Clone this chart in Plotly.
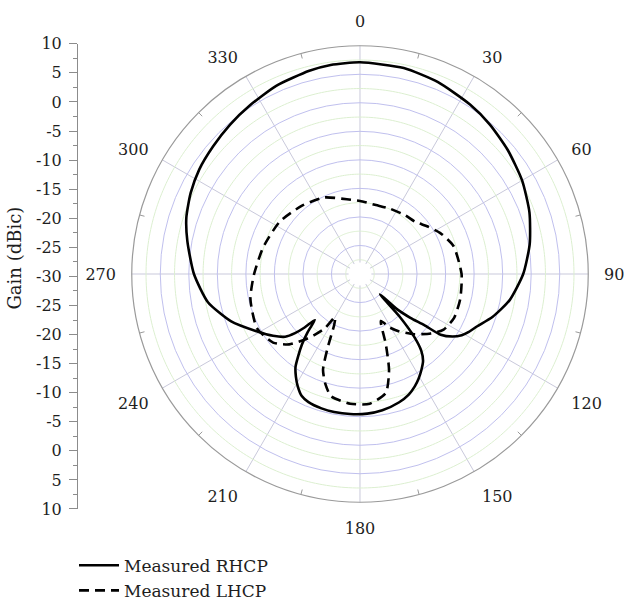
import numpy as np
import plotly.graph_objects as go

# Measured RHCP pattern: angle (deg) and gain (dBic)
rhcp_theta = [0, 12, 22, 33, 41, 50, 60, 70, 80, 90, 100, 108, 114, 118, 121, 124, 127,
              128.5, 131, 133.5, 135.5, 137, 139.3, 141.4, 144, 147.5, 151, 154, 158, 163,
              170.7, 177, 184, 190.6, 196, 201.9, 205.5, 209, 212, 214.8, 217, 219.5, 222,
              224.5, 226, 227.7, 230, 234.6, 241, 250, 259.5, 270, 280.8, 288, 295.6, 303,
              311, 319, 327, 336, 346, 352, 360]
rhcp_gain = [7.1, 6.9, 6.3, 5.4, 4.7, 3.8, 2.8, 1.6, 0.2, -1.4, -3.4, -5.6, -7.5, -8.4, -9.2,
             -10.4, -12.3, -15.6, -18.3, -21.0, -25.0, -20.0, -15.3, -12.8, -11.2, -10.0,
             -8.9, -8.1, -7.2, -6.5, -5.8, -5.5, -5.4, -5.4, -5.5, -5.8, -6.3, -7.5, -8.8,
             -10.2, -12.0, -14.0, -16.3, -18.7, -16.5, -14.6, -12.9, -11.3, -9.3, -5.9, -2.9,
             -0.9, 0.8, 2.0, 2.9, 3.6, 4.1, 4.7, 5.3, 6.1, 6.7, 7.0, 7.1]

# Measured LHCP pattern: angle (deg) and gain (dBic)
lhcp_theta = [0, 13, 25, 37.6, 46.4, 55, 63, 73.3, 90, 104, 115, 123.6, 130, 138, 146, 151,
              156, 159.8, 163.2, 167.7, 175.7, 184.3, 193.4, 197.5, 201.1, 203.7, 206.9, 210,
              213, 216.7, 220, 225.2, 231.7, 242.3, 257.1, 269.5, 285.3, 303, 319.7, 335, 350,
              360]
lhcp_gain = [-17.2, -17.6, -17.4, -17.0, -16.7, -15.5, -14.2, -12.9, -12.2, -11.9, -11.8,
             -12.4, -13.8, -15.8, -17.9, -19.3, -21.0, -16.9, -12.4, -8.7, -7.2, -7.2, -8.0,
             -9.8, -12.0, -15.9, -20.0, -21.3, -18.6, -16.7, -15.0, -12.5, -10.6, -9.6, -10.3,
             -11.4, -12.4, -13.2, -14.3, -15.2, -16.7, -17.2]

# Polar grid
radial_range = [-30, 10]
radial_major = [-25, -20, -15, -10, -5, 0, 5]
radial_minor = [-27.5, -22.5, -17.5, -12.5, -7.5, -2.5, 2.5, 7.5]
angle_labels = [0, 30, 60, 90, 120, 150, 180, 210, 240, 270, 300, 330]
angle_minor_ticks = [15, 45, 75, 105, 135, 165, 195, 225, 255, 285, 315, 345]

# Side gain scale: mirrored 10 ... -30 ... 10
side_positions = [-40, -35, -30, -25, -20, -15, -10, -5, 0, 5, 10, 15, 20, 25, 30, 35, 40]
side_labels = ["10", "5", "0", "-5", "-10", "-15", "-20", "-25", "-30",
               "-25", "-20", "-15", "-10", "-5", "0", "5", "10"]
side_minor = [-37.5, -32.5, -27.5, -22.5, -17.5, -12.5, -7.5, -2.5,
              2.5, 7.5, 12.5, 17.5, 22.5, 27.5, 32.5, 37.5]

FONT = "DejaVu Serif"
TEXT = "#1e1e1e"
ring_theta = np.linspace(0, 360, 361)

fig = go.Figure()

# light green minor rings
for r in radial_minor:
    fig.add_trace(go.Scatterpolar(
        r=[r] * len(ring_theta), theta=ring_theta, mode="lines",
        line=dict(color="#dcefd0", width=1), showlegend=False, hoverinfo="skip"))

# blank disc in the middle of the plot
fig.add_trace(go.Scatterpolar(
    r=[-28] * len(ring_theta), theta=ring_theta, mode="lines", fill="toself",
    fillcolor="white", line=dict(color="white", width=0),
    showlegend=False, hoverinfo="skip"))

# short inward ticks on the rim between labelled angles
tick_r, tick_t = [], []
for a in angle_minor_ticks:
    tick_r += [9.1, 10, None]
    tick_t += [a, a, None]
fig.add_trace(go.Scatterpolar(
    r=tick_r, theta=tick_t, mode="lines", line=dict(color="#9a9a9a", width=1),
    showlegend=False, hoverinfo="skip"))

fig.add_trace(go.Scatterpolar(
    r=rhcp_gain, theta=rhcp_theta, mode="lines", name="Measured RHCP",
    line=dict(color="black", width=2.6, shape="spline", smoothing=0.6)))
fig.add_trace(go.Scatterpolar(
    r=lhcp_gain, theta=lhcp_theta, mode="lines", name="Measured LHCP",
    line=dict(color="black", width=2.6, dash="10px,6px", shape="spline", smoothing=0.6)))

# anchor trace so the side scale is drawn
fig.add_trace(go.Scatter(x=[0.5], y=[0], mode="markers", marker=dict(opacity=0),
                         showlegend=False, hoverinfo="skip", xaxis="x", yaxis="y"))

fig.update_layout(
    width=639, height=609,
    margin=dict(l=0, r=0, t=0, b=0),
    paper_bgcolor="white", plot_bgcolor="white",
    font=dict(family=FONT, size=16, color=TEXT),
    polar=dict(
        domain=dict(x=[0.19405, 0.93271], y=[0.16256, 0.93760]),
        bgcolor="white",
        angularaxis=dict(
            rotation=90, direction="clockwise",
            tickmode="array", tickvals=angle_labels,
            ticktext=[str(a) for a in angle_labels],
            ticks="outside", ticklen=12, tickcolor="rgba(0,0,0,0)",
            showline=True, linecolor="#9a9a9a", linewidth=1.2,
            showgrid=True, gridcolor="#c9c9db", gridwidth=1,
            tickfont=dict(family=FONT, size=16, color=TEXT)),
        radialaxis=dict(
            range=radial_range, tickmode="array", tickvals=radial_major,
            showticklabels=False, ticks="", showline=False,
            showgrid=True, gridcolor="#c0c0ee", gridwidth=1)),
    xaxis=dict(domain=[0.125, 0.15], range=[0, 1], visible=False),
    yaxis=dict(
        domain=[0.1511, 0.9409], range=[-40, 40],
        anchor="free", position=77 / 639, side="left",
        showline=True, linecolor="#8c8c8c", linewidth=1,
        ticks="outside", ticklen=8, tickcolor="#8c8c8c",
        tickmode="array", tickvals=side_positions, ticktext=side_labels,
        minor=dict(ticks="outside", ticklen=4, tickcolor="#8c8c8c",
                   tickmode="array", tickvals=side_minor),
        ticklabelstandoff=4,
        showgrid=False, zeroline=False,
        tickfont=dict(family=FONT, size=16, color=TEXT)),
    annotations=[dict(
        text="Gain (dBic)", x=15 / 639, y=1 - 258 / 609, xref="paper", yref="paper",
        textangle=-90, showarrow=False, xanchor="center", yanchor="middle",
        font=dict(family=FONT, size=18, color=TEXT))],
    legend=dict(
        x=74 / 639, y=1 - 557 / 609, xanchor="left", yanchor="top",
        bgcolor="rgba(0,0,0,0)", borderwidth=0, itemwidth=40,
        font=dict(family=FONT, size=17, color=TEXT),
        tracegroupgap=0),
    showlegend=True,
)

fig.write_html("out.html")
